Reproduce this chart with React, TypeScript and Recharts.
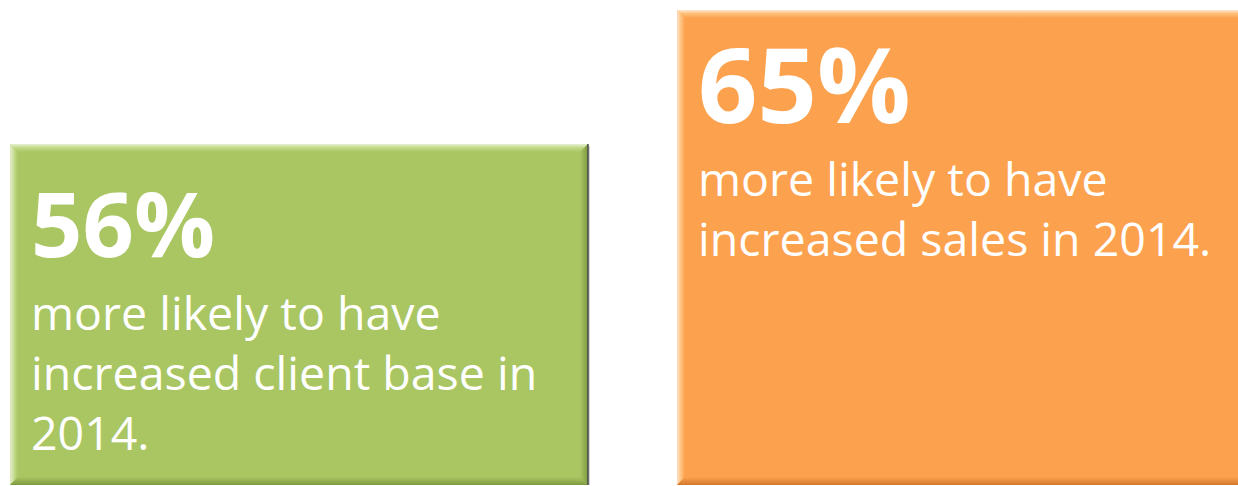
import React from "react";
import { BarChart, Bar, XAxis, YAxis, Cell } from "recharts";

const categories = ["client base", "sales"];
const values = [56, 65];
const headlines = ["56%", "65%"];
const descriptions = [
  ["more likely to have", "increased client base in", "2014."],
  ["more likely to have", "increased sales in 2014."],
];
const colors = ["#A9C663", "#FCA24F"];
const lightColors = ["#C4DC8C", "#FFC27E"];
const darkColors = ["#7E9A40", "#D3782C"];
const headlineSizes = [90, 104];

const data = categories.map((c, i) => ({
  name: c,
  value: values[i],
  headline: headlines[i],
  lines: descriptions[i],
}));

const FONT = "'Open Sans', 'DejaVu Sans', sans-serif";

const BevelBar = (props: any) => {
  const { x, y, width, height, index, payload } = props;
  const b = 8;
  const base = colors[index];
  return (
    <g>
      <rect x={x + 2} y={y + 2} width={width} height={height} fill="#888" opacity={0.35} />
      <rect x={x} y={y} width={width} height={height} fill={base} />
      {/* top bevel */}
      <polygon
        points={`${x},${y} ${x + width},${y} ${x + width - b},${y + b} ${x + b},${y + b}`}
        fill={`url(#topBevel${index})`}
      />
      {/* left bevel */}
      <polygon
        points={`${x},${y} ${x + b},${y + b} ${x + b},${y + height - b} ${x},${y + height}`}
        fill={`url(#leftBevel${index})`}
      />
      {/* right bevel */}
      <polygon
        points={`${x + width},${y} ${x + width},${y + height} ${x + width - b},${y + height - b} ${x + width - b},${y + b}`}
        fill={`url(#rightBevel${index})`}
      />
      {/* bottom bevel */}
      <polygon
        points={`${x},${y + height} ${x + width},${y + height} ${x + width - b},${y + height - b} ${x + b},${y + height - b}`}
        fill={`url(#bottomBevel${index})`}
      />
      <line x1={x + width} y1={y} x2={x + width} y2={y + height} stroke="#4a4a4a" strokeWidth={1.5} />
      <text
        x={x + 21}
        y={y + 113}
        fill="#fff"
        fontFamily={FONT}
        fontWeight={700}
        fontSize={headlineSizes[index]}
      >
        {payload.headline}
      </text>
      {payload.lines.map((ln: string, i: number) => (
        <text
          key={i}
          x={x + 21}
          y={y + 186 + i * 60}
          fill="#fff"
          fontFamily={FONT}
          fontSize={46.5}
        >
          {ln}
        </text>
      ))}
    </g>
  );
};

export default function App() {
  return (
    <div
      style={{
        position: "absolute",
        left: 0,
        top: 0,
        width: 1238,
        height: 486,
        overflow: "hidden",
        background: "#fff",
      }}
    >
      <div style={{ marginLeft: -35 }}>
        <BarChart
          width={1334}
          height={486}
          data={data}
          margin={{ top: 10, right: 0, bottom: 1, left: 0 }}
        >
          <defs>
            {colors.map((c, i) => (
              <React.Fragment key={i}>
                <linearGradient id={`topBevel${i}`} x1="0" y1="0" x2="0" y2="1">
                  <stop offset="0%" stopColor="#fff" stopOpacity={0.7} />
                  <stop offset="40%" stopColor={lightColors[i]} />
                  <stop offset="100%" stopColor={c} />
                </linearGradient>
                <linearGradient id={`leftBevel${i}`} x1="0" y1="0" x2="1" y2="0">
                  <stop offset="0%" stopColor="#fff" stopOpacity={0.6} />
                  <stop offset="50%" stopColor={lightColors[i]} />
                  <stop offset="100%" stopColor={c} />
                </linearGradient>
                <linearGradient id={`rightBevel${i}`} x1="0" y1="0" x2="1" y2="0">
                  <stop offset="0%" stopColor={c} />
                  <stop offset="100%" stopColor={darkColors[i]} />
                </linearGradient>
                <linearGradient id={`bottomBevel${i}`} x1="0" y1="0" x2="0" y2="1">
                  <stop offset="0%" stopColor={c} />
                  <stop offset="100%" stopColor={darkColors[i]} />
                </linearGradient>
              </React.Fragment>
            ))}
          </defs>
          <XAxis dataKey="name" hide />
          <YAxis hide type="number" domain={[33.1, 65]} allowDataOverflow />
          <Bar dataKey="value" barSize={578} shape={BevelBar} isAnimationActive={false}>
            {data.map((d, i) => (
              <Cell key={i} fill={colors[i]} />
            ))}
          </Bar>
        </BarChart>
      </div>
    </div>
  );
}
